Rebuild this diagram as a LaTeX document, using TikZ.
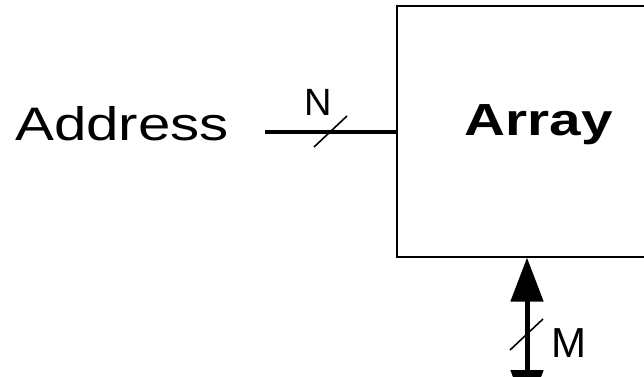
\documentclass[tikz,border=0pt]{standalone}
\usepackage{fontspec}
\setmainfont{Liberation Sans}
\usepackage{tikz}
\usetikzlibrary{arrows.meta, positioning}

\begin{document}
\begin{tikzpicture}[x=1pt, y=-1pt, bus/.style={line width=4pt}, slash/.style={line width=1.6pt}]

\useasboundingbox (0,0) rectangle (644,376);
\clip (0,0) rectangle (644,376);

\node[draw, line width=1.6pt, anchor=north west, minimum width=320pt, minimum height=251pt, inner sep=0pt] (array) at (396,5) {};
\node[font=\fontsize{45}{45}\selectfont\bfseries, anchor=base] (arraytitle) at (539,135) {\scalebox{1.26}[1]{Array}};

\node[font=\fontsize{47}{47}\selectfont, anchor=base west, inner sep=0pt] (address) at (15,140.5) {\scalebox{1.24}[1]{Address}};
\coordinate (busin) at (265,131.5);
\draw[bus] (busin) -- (busin -| array.west);

\coordinate (nslash) at (330.5,131.5);
\draw[slash] ([shift={(-16.5,15.5)}]nslash) -- ([shift={(16.5,-15.5)}]nslash);
\node[font=\fontsize{38}{38}\selectfont, anchor=base] (nlabel) at (318.5,115) {N};

\coordinate (dataout) at (527,414);
\draw[line width=5pt, {Triangle[length=44pt, width=32pt]}-{Triangle[length=44pt, width=32pt]}] (dataout) -- (dataout |- array.south);

\coordinate (mslash) at (526.5,334.5);
\draw[slash] ([shift={(-16.5,15.5)}]mslash) -- ([shift={(16.5,-15.5)}]mslash);
\node[font=\fontsize{42}{42}\selectfont, anchor=base] (mlabel) at (568.5,357) {M};

\end{tikzpicture}
\end{document}
